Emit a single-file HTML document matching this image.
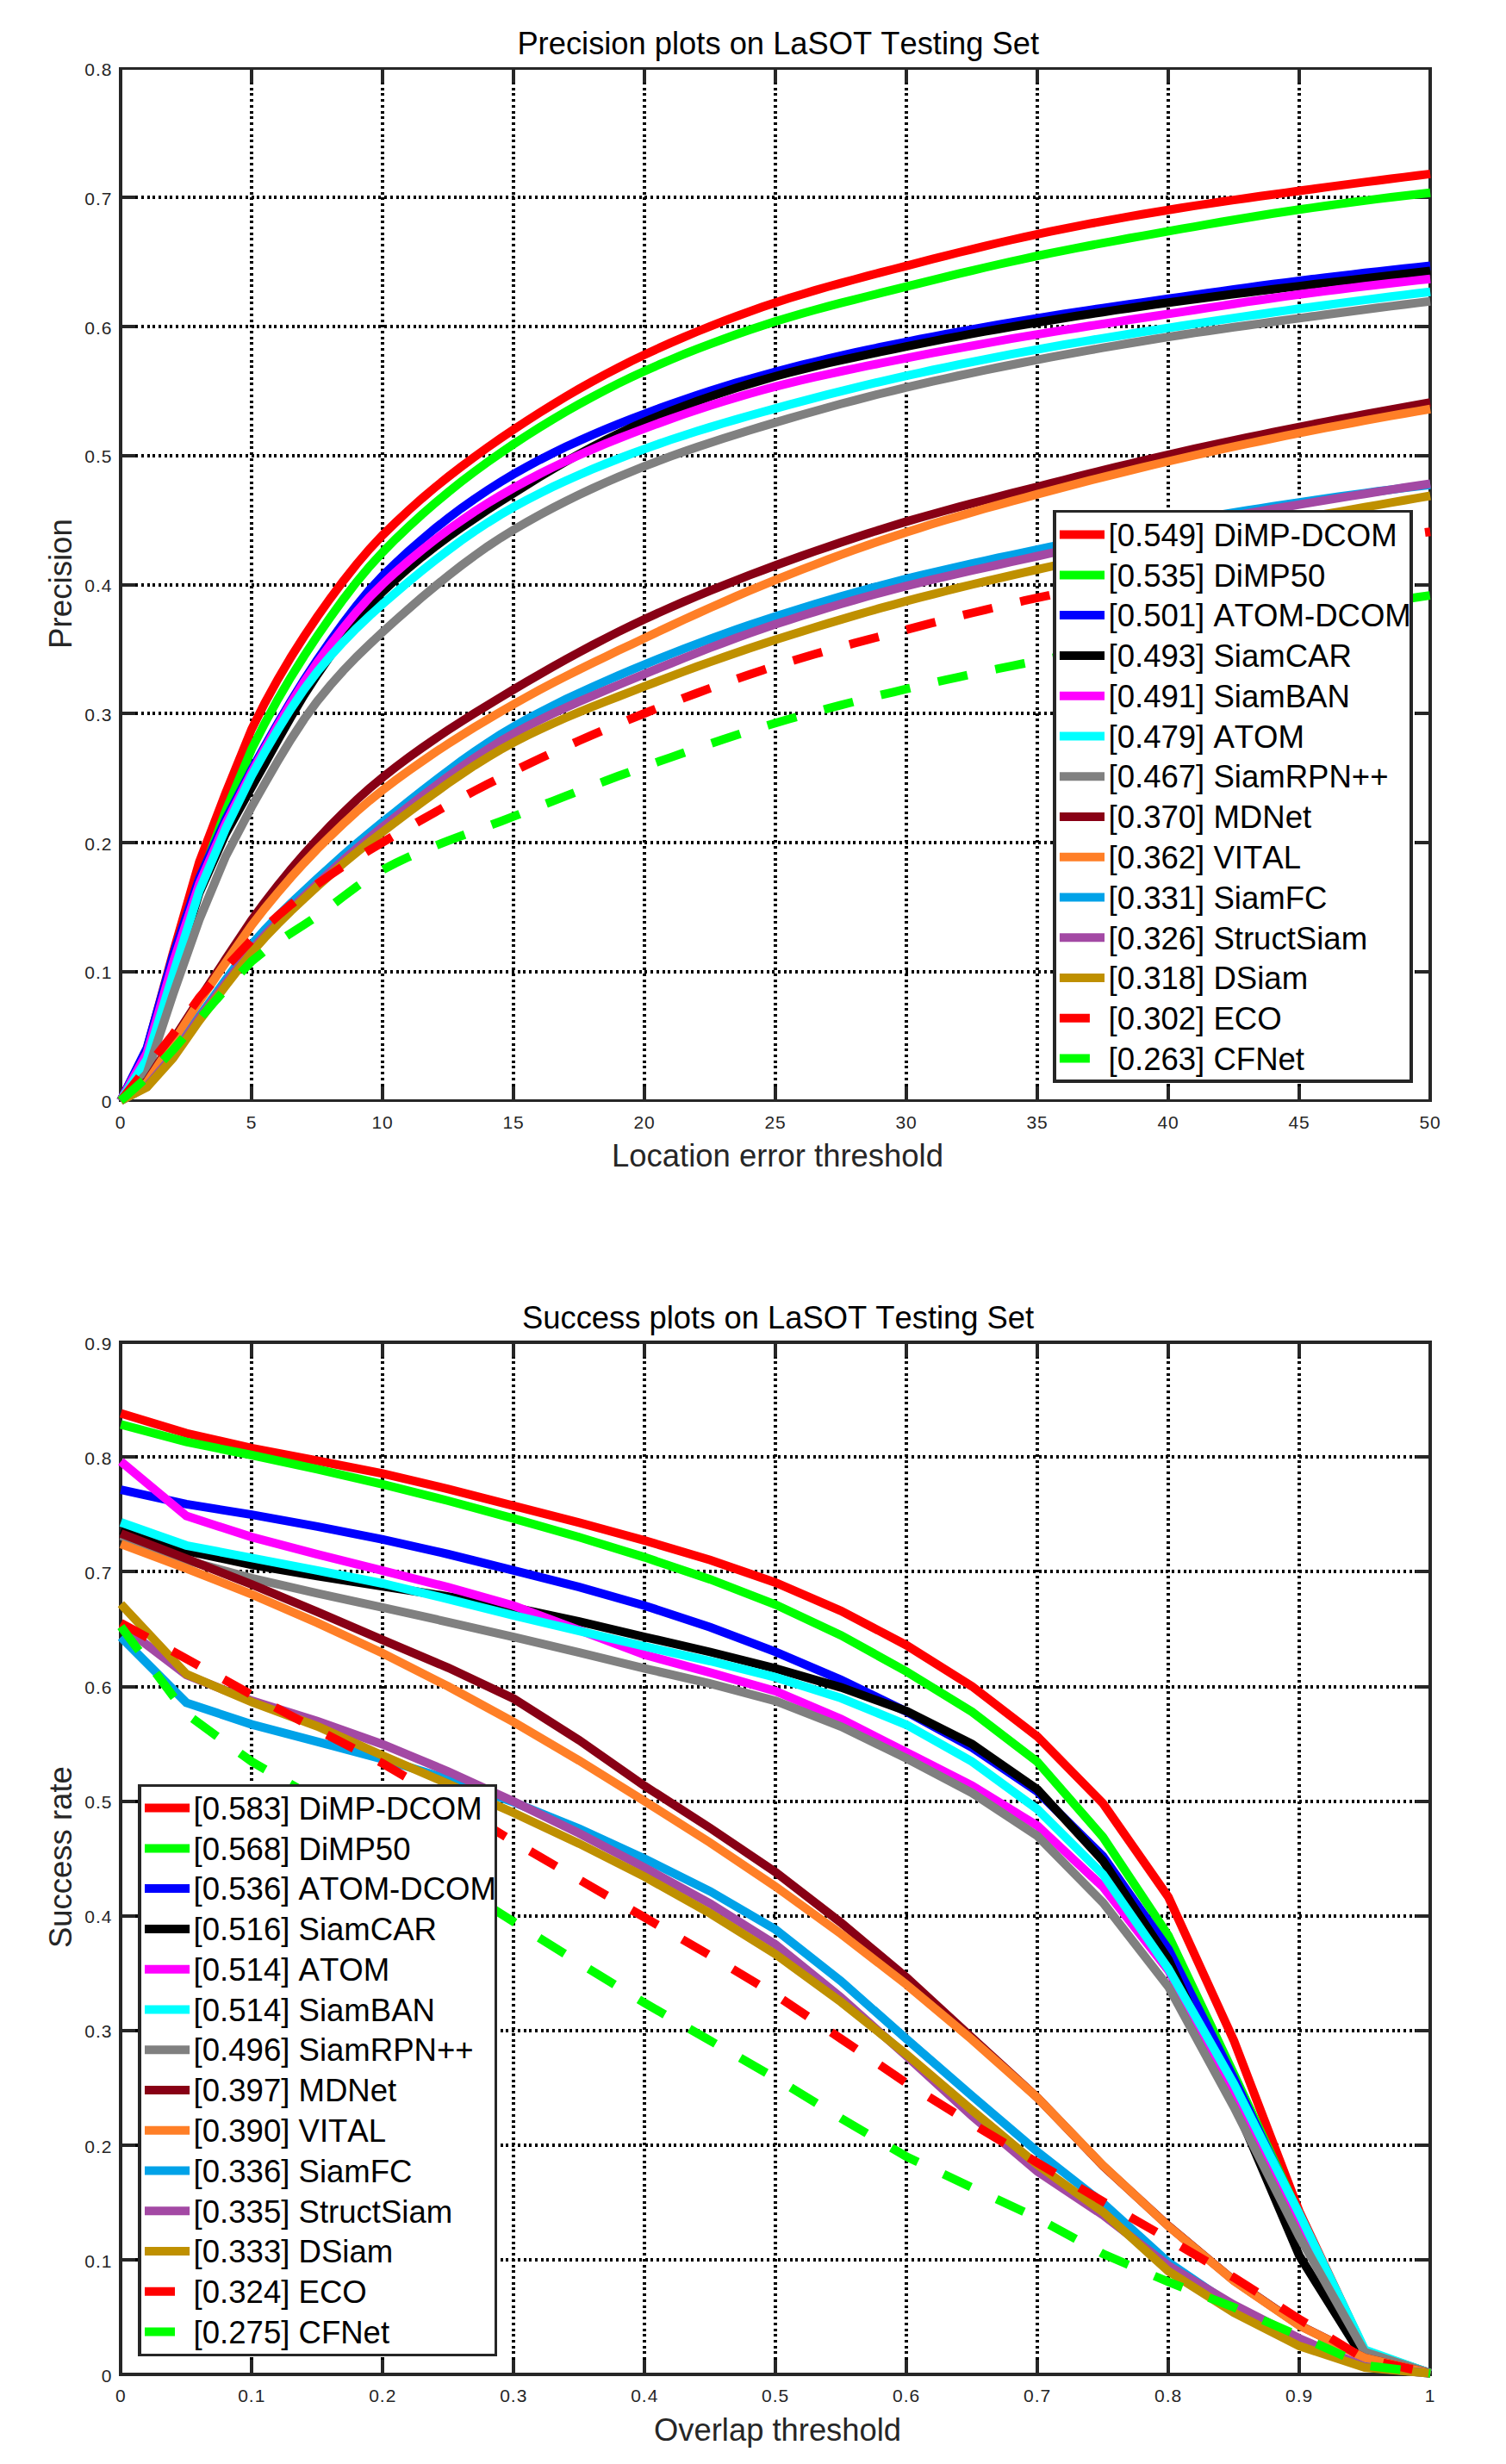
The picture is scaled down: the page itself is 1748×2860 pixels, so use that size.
<!DOCTYPE html>
<html lang="en"><head><meta charset="utf-8"><title>LaSOT precision and success plots</title>
<style>
html,body{margin:0;padding:0;background:#fff;}
body{width:1748px;height:2860px;overflow:hidden;}
svg{display:block;}
text{font-family:"Liberation Sans",Arial,Helvetica,sans-serif;font-kerning:none;}
.tk{font-size:21px;fill:#262626;letter-spacing:1px;}
.lb{font-size:36px;fill:#262626;}
.tt{font-size:36px;fill:#000;}
.lg{font-size:36.55px;fill:#000;}
.ax{stroke:#262626;stroke-width:4;fill:none;shape-rendering:crispEdges;}
.tick{stroke:#262626;stroke-width:4;fill:none;shape-rendering:crispEdges;}
.grid{stroke:#000;stroke-width:4;fill:none;stroke-dasharray:3 3.72;shape-rendering:crispEdges;}
.cv{fill:none;stroke-width:10;stroke-linejoin:miter;stroke-linecap:butt;}
</style></head><body>
<svg width="1748" height="2860" viewBox="0 0 1748 2860">
<rect x="0" y="0" width="1748" height="2860" fill="#fff"/>
<g>
<path class="grid" d="M292.1 1260.6V96.4M444.1 1260.6V96.4M596.1 1260.6V96.4M748.1 1260.6V96.4M900.1 1260.6V96.4M1052.1 1260.6V96.4M1204.1 1260.6V96.4M1356.1 1260.6V96.4M1508.1 1260.6V96.4M157.1 1127.8H1643.1M157.1 978H1643.1M157.1 828.3H1643.1M157.1 678.5H1643.1M157.1 528.7H1643.1M157.1 379H1643.1M157.1 229.2H1643.1"/>
<path class="tick" d="M292.1 1277.6v-17M292.1 79.4v17M444.1 1277.6v-17M444.1 79.4v17M596.1 1277.6v-17M596.1 79.4v17M748.1 1277.6v-17M748.1 79.4v17M900.1 1277.6v-17M900.1 79.4v17M1052.1 1277.6v-17M1052.1 79.4v17M1204.1 1277.6v-17M1204.1 79.4v17M1356.1 1277.6v-17M1356.1 79.4v17M1508.1 1277.6v-17M1508.1 79.4v17M140.1 1127.8h17M1660.1 1127.8h-17M140.1 978h17M1660.1 978h-17M140.1 828.3h17M1660.1 828.3h-17M140.1 678.5h17M1660.1 678.5h-17M140.1 528.7h17M1660.1 528.7h-17M140.1 379h17M1660.1 379h-17M140.1 229.2h17M1660.1 229.2h-17"/>
<path fill="#262626" shape-rendering="crispEdges" d="M138 78H1662V1279H138ZM142 81H1658V1276H142Z" fill-rule="evenodd"/>
<path class="cv" stroke="#FF0000" d="M140.1 1277.6L170.5 1217.7L200.9 1106L231.3 1000.5L261.7 921.1L292.1 846.2L307.3 816.1L322.5 788.4L337.7 762.7L352.9 738.8L368.1 716.2L383.3 694.7L398.5 674.3L413.7 655.1L428.9 637.3L444.1 621.1L459.3 606.3L474.5 592.1L489.7 578.6L504.9 565.8L520.1 553.5L535.3 541.7L550.5 530.4L565.7 519.5L580.9 508.9L596.1 498.6L611.3 488.6L626.5 478.9L641.7 469.4L656.9 460.3L672.1 451.4L687.3 442.8L702.5 434.6L717.7 426.7L732.9 419L748.1 411.8L763.3 404.7L778.5 397.9L793.7 391.3L808.9 385L824.1 378.8L839.3 372.9L854.5 367.2L869.7 361.7L884.9 356.3L900.1 351.2L915.3 346.3L930.5 341.7L945.7 337.1L960.9 332.8L976.1 328.6L991.3 324.5L1006.5 320.4L1021.7 316.4L1036.9 312.5L1052.1 308.6L1067.3 304.6L1082.5 300.7L1097.7 296.8L1112.9 293L1128.1 289.3L1143.3 285.6L1158.5 282L1173.7 278.5L1188.9 275.1L1204.1 271.9L1219.3 268.7L1234.5 265.6L1249.7 262.7L1264.9 259.7L1280.1 256.9L1295.3 254.1L1310.5 251.4L1325.7 248.8L1340.9 246.2L1356.1 243.7L1371.3 241.3L1386.5 238.9L1401.7 236.6L1416.9 234.3L1432.1 232.1L1447.3 230L1462.5 227.8L1477.7 225.7L1492.9 223.6L1508.1 221.5L1523.3 219.5L1538.5 217.4L1553.7 215.4L1568.9 213.4L1584.1 211.4L1599.3 209.5L1614.5 207.5L1629.7 205.6L1644.9 203.8L1660.1 201.9"/>
<path class="cv" stroke="#00FF00" d="M140.1 1277.6L170.5 1222.2L200.9 1118.8L231.3 1024.5L261.7 942.1L292.1 869.5L307.3 839.5L322.5 811.7L337.7 785.8L352.9 761.5L368.1 738.6L383.3 716.6L398.5 695.6L413.7 675.8L428.9 657.5L444.1 640.9L459.3 625.6L474.5 611.1L489.7 597.2L504.9 584L520.1 571.3L535.3 559.2L550.5 547.6L565.7 536.5L580.9 525.8L596.1 515.5L611.3 505.6L626.5 496L641.7 486.7L656.9 477.7L672.1 469.1L687.3 460.8L702.5 452.8L717.7 445.1L732.9 437.8L748.1 430.8L763.3 424L778.5 417.5L793.7 411.2L808.9 405.2L824.1 399.3L839.3 393.7L854.5 388.2L869.7 383L884.9 378L900.1 373.1L915.3 368.5L930.5 364L945.7 359.8L960.9 355.7L976.1 351.7L991.3 347.8L1006.5 344L1021.7 340.2L1036.9 336.4L1052.1 332.7L1067.3 328.9L1082.5 325.1L1097.7 321.4L1112.9 317.7L1128.1 314.1L1143.3 310.5L1158.5 307L1173.7 303.6L1188.9 300.3L1204.1 297L1219.3 293.9L1234.5 290.8L1249.7 287.9L1264.9 285L1280.1 282.1L1295.3 279.3L1310.5 276.5L1325.7 273.8L1340.9 271.1L1356.1 268.4L1371.3 265.7L1386.5 263.1L1401.7 260.4L1416.9 257.8L1432.1 255.2L1447.3 252.7L1462.5 250.2L1477.7 247.8L1492.9 245.5L1508.1 243.3L1523.3 241.1L1538.5 239L1553.7 236.9L1568.9 234.8L1584.1 232.9L1599.3 230.9L1614.5 229L1629.7 227.2L1644.9 225.5L1660.1 223.8"/>
<path class="cv" stroke="#0000FF" d="M140.1 1277.6L170.5 1216.6L200.9 1109L231.3 1019.5L261.7 951.8L292.1 893.4L307.3 866.1L322.5 839.5L337.7 813.7L352.9 789.1L368.1 766.1L383.3 744.2L398.5 723L413.7 703L428.9 684.6L444.1 668.3L459.3 653.6L474.5 639.5L489.7 626.2L504.9 613.5L520.1 601.5L535.3 590.1L550.5 579.3L565.7 569.1L580.9 559.5L596.1 550.4L611.3 541.9L626.5 533.7L641.7 526L656.9 518.6L672.1 511.6L687.3 504.9L702.5 498.4L717.7 492.2L732.9 486.2L748.1 480.3L763.3 474.7L778.5 469.2L793.7 463.9L808.9 458.8L824.1 453.8L839.3 449L854.5 444.4L869.7 440L884.9 435.7L900.1 431.5L915.3 427.5L930.5 423.7L945.7 420L960.9 416.4L976.1 412.9L991.3 409.5L1006.5 406.2L1021.7 403L1036.9 399.9L1052.1 396.8L1067.3 393.7L1082.5 390.8L1097.7 387.9L1112.9 385.1L1128.1 382.3L1143.3 379.6L1158.5 377L1173.7 374.4L1188.9 371.9L1204.1 369.4L1219.3 366.9L1234.5 364.5L1249.7 362.2L1264.9 359.9L1280.1 357.7L1295.3 355.5L1310.5 353.3L1325.7 351.1L1340.9 348.9L1356.1 346.7L1371.3 344.6L1386.5 342.4L1401.7 340.3L1416.9 338.1L1432.1 336L1447.3 333.9L1462.5 331.8L1477.7 329.8L1492.9 327.9L1508.1 325.9L1523.3 324L1538.5 322.2L1553.7 320.4L1568.9 318.6L1584.1 316.8L1599.3 315.1L1614.5 313.4L1629.7 311.8L1644.9 310.1L1660.1 308.6"/>
<path class="cv" stroke="#000000" d="M140.1 1277.6L170.5 1232.7L200.9 1133.8L231.3 1036.5L261.7 968.3L292.1 913.6L307.3 886.5L322.5 859.1L337.7 832.3L352.9 806.8L368.1 783.3L383.3 761.5L398.5 740.5L413.7 720.8L428.9 702.8L444.1 686.9L459.3 672.6L474.5 659.1L489.7 646.5L504.9 634.5L520.1 623.2L535.3 612.4L550.5 602L565.7 591.9L580.9 582.1L596.1 572.5L611.3 562.9L626.5 553.6L641.7 544.5L656.9 535.7L672.1 527.1L687.3 518.9L702.5 511L717.7 503.4L732.9 496.3L748.1 489.6L763.3 483.3L778.5 477.2L793.7 471.4L808.9 465.7L824.1 460.4L839.3 455.2L854.5 450.3L869.7 445.6L884.9 441.1L900.1 436.8L915.3 432.7L930.5 428.8L945.7 425.1L960.9 421.5L976.1 418.1L991.3 414.8L1006.5 411.6L1021.7 408.4L1036.9 405.3L1052.1 402.2L1067.3 399.1L1082.5 396.1L1097.7 393.2L1112.9 390.3L1128.1 387.4L1143.3 384.7L1158.5 382L1173.7 379.3L1188.9 376.7L1204.1 374.2L1219.3 371.7L1234.5 369.2L1249.7 366.8L1264.9 364.5L1280.1 362.2L1295.3 359.9L1310.5 357.7L1325.7 355.5L1340.9 353.3L1356.1 351.2L1371.3 349.2L1386.5 347.2L1401.7 345.2L1416.9 343.2L1432.1 341.3L1447.3 339.5L1462.5 337.6L1477.7 335.7L1492.9 333.9L1508.1 332.1L1523.3 330.2L1538.5 328.4L1553.7 326.6L1568.9 324.9L1584.1 323.1L1599.3 321.4L1614.5 319.6L1629.7 317.9L1644.9 316.2L1660.1 314.5"/>
<path class="cv" stroke="#FF00FF" d="M140.1 1277.6L170.5 1222.2L200.9 1117.3L231.3 1025.7L261.7 956.3L292.1 896.4L307.3 868.8L322.5 841.9L337.7 816.1L352.9 791.8L368.1 769.4L383.3 748.6L398.5 728.8L413.7 710.3L428.9 693.3L444.1 678.1L459.3 664.1L474.5 650.9L489.7 638.3L504.9 626.4L520.1 615L535.3 604.3L550.5 594L565.7 584.3L580.9 575.1L596.1 566.3L611.3 558L626.5 550L641.7 542.4L656.9 535.2L672.1 528.3L687.3 521.6L702.5 515.2L717.7 509L732.9 503.1L748.1 497.3L763.3 491.7L778.5 486.2L793.7 480.9L808.9 475.8L824.1 470.8L839.3 466L854.5 461.4L869.7 457L884.9 452.8L900.1 448.7L915.3 444.9L930.5 441.2L945.7 437.7L960.9 434.3L976.1 431L991.3 427.8L1006.5 424.7L1021.7 421.7L1036.9 418.7L1052.1 415.6L1067.3 412.7L1082.5 409.7L1097.7 406.9L1112.9 404.1L1128.1 401.3L1143.3 398.6L1158.5 395.9L1173.7 393.2L1188.9 390.6L1204.1 388.1L1219.3 385.6L1234.5 383.1L1249.7 380.7L1264.9 378.3L1280.1 376L1295.3 373.6L1310.5 371.3L1325.7 369L1340.9 366.7L1356.1 364.4L1371.3 362.1L1386.5 359.8L1401.7 357.4L1416.9 355.1L1432.1 352.7L1447.3 350.4L1462.5 348.2L1477.7 346L1492.9 343.9L1508.1 341.8L1523.3 339.8L1538.5 337.9L1553.7 336L1568.9 334.1L1584.1 332.3L1599.3 330.5L1614.5 328.8L1629.7 327.1L1644.9 325.4L1660.1 323.8"/>
<path class="cv" stroke="#00FFFF" d="M140.1 1277.6L170.5 1229.7L200.9 1130.8L231.3 1034.1L261.7 962.3L292.1 900.2L307.3 873L322.5 847.1L337.7 822.7L352.9 800.2L368.1 779.9L383.3 761.7L398.5 744.9L413.7 729.3L428.9 714.8L444.1 701.1L459.3 687.9L474.5 675L489.7 662.5L504.9 650.4L520.1 638.7L535.3 627.5L550.5 616.9L565.7 606.9L580.9 597.4L596.1 588.6L611.3 580.4L626.5 572.6L641.7 565.1L656.9 558L672.1 551.2L687.3 544.7L702.5 538.5L717.7 532.5L732.9 526.7L748.1 521.1L763.3 515.7L778.5 510.4L793.7 505.4L808.9 500.6L824.1 495.9L839.3 491.3L854.5 486.9L869.7 482.5L884.9 478.3L900.1 474.1L915.3 469.9L930.5 465.8L945.7 461.8L960.9 457.9L976.1 454.1L991.3 450.3L1006.5 446.7L1021.7 443.1L1036.9 439.6L1052.1 436.2L1067.3 432.8L1082.5 429.5L1097.7 426.3L1112.9 423.2L1128.1 420.1L1143.3 417.1L1158.5 414.1L1173.7 411.2L1188.9 408.4L1204.1 405.6L1219.3 402.9L1234.5 400.2L1249.7 397.6L1264.9 395.1L1280.1 392.6L1295.3 390.2L1310.5 387.7L1325.7 385.3L1340.9 383L1356.1 380.6L1371.3 378.2L1386.5 375.9L1401.7 373.6L1416.9 371.4L1432.1 369.1L1447.3 366.9L1462.5 364.7L1477.7 362.5L1492.9 360.4L1508.1 358.3L1523.3 356.2L1538.5 354.2L1553.7 352.1L1568.9 350.1L1584.1 348.1L1599.3 346.2L1614.5 344.3L1629.7 342.4L1644.9 340.5L1660.1 338.7"/>
<path class="cv" stroke="#808080" d="M140.1 1277.6L170.5 1246.1L200.9 1154L231.3 1067.5L261.7 994.5L292.1 936.4L307.3 909.6L322.5 883.3L337.7 858.2L352.9 834.9L368.1 814L383.3 795.5L398.5 778.4L413.7 762.6L428.9 747.8L444.1 733.6L459.3 719.9L474.5 706.4L489.7 693.3L504.9 680.6L520.1 668.3L535.3 656.5L550.5 645.2L565.7 634.5L580.9 624.4L596.1 615L611.3 606.1L626.5 597.6L641.7 589.5L656.9 581.7L672.1 574.2L687.3 567.1L702.5 560.2L717.7 553.6L732.9 547.3L748.1 541.2L763.3 535.3L778.5 529.6L793.7 524.2L808.9 519L824.1 513.9L839.3 509L854.5 504.2L869.7 499.5L884.9 494.9L900.1 490.4L915.3 485.9L930.5 481.5L945.7 477.2L960.9 473L976.1 468.8L991.3 464.8L1006.5 460.9L1021.7 457L1036.9 453.3L1052.1 449.6L1067.3 446.1L1082.5 442.6L1097.7 439.3L1112.9 436L1128.1 432.8L1143.3 429.6L1158.5 426.5L1173.7 423.5L1188.9 420.5L1204.1 417.6L1219.3 414.7L1234.5 411.9L1249.7 409.1L1264.9 406.4L1280.1 403.7L1295.3 401.1L1310.5 398.5L1325.7 396L1340.9 393.5L1356.1 391.1L1371.3 388.7L1386.5 386.4L1401.7 384.2L1416.9 382L1432.1 379.8L1447.3 377.7L1462.5 375.6L1477.7 373.5L1492.9 371.4L1508.1 369.4L1523.3 367.3L1538.5 365.3L1553.7 363.3L1568.9 361.3L1584.1 359.3L1599.3 357.3L1614.5 355.4L1629.7 353.5L1644.9 351.6L1660.1 349.7"/>
<path class="cv" stroke="#880015" d="M140.1 1277.6L170.5 1255.1L200.9 1207.2L231.3 1160L261.7 1113.6L292.1 1067.8L307.3 1047.3L322.5 1027.7L337.7 1009L352.9 991.2L368.1 974.5L383.3 958.5L398.5 943.2L413.7 928.6L428.9 915L444.1 902.3L459.3 890.4L474.5 879L489.7 868.1L504.9 857.6L520.1 847.4L535.3 837.6L550.5 828.1L565.7 818.7L580.9 809.5L596.1 800.4L611.3 791.4L626.5 782.6L641.7 773.9L656.9 765.4L672.1 757.1L687.3 749L702.5 741.1L717.7 733.4L732.9 726L748.1 718.8L763.3 711.8L778.5 705L793.7 698.4L808.9 692L824.1 685.7L839.3 679.6L854.5 673.6L869.7 667.7L884.9 662L900.1 656.3L915.3 650.8L930.5 645.3L945.7 639.9L960.9 634.7L976.1 629.5L991.3 624.4L1006.5 619.5L1021.7 614.7L1036.9 610L1052.1 605.4L1067.3 601L1082.5 596.7L1097.7 592.5L1112.9 588.4L1128.1 584.4L1143.3 580.5L1158.5 576.6L1173.7 572.7L1188.9 568.8L1204.1 565L1219.3 561.1L1234.5 557.3L1249.7 553.4L1264.9 549.6L1280.1 545.9L1295.3 542.2L1310.5 538.5L1325.7 534.9L1340.9 531.3L1356.1 527.8L1371.3 524.4L1386.5 521L1401.7 517.7L1416.9 514.4L1432.1 511.2L1447.3 508L1462.5 504.8L1477.7 501.7L1492.9 498.7L1508.1 495.6L1523.3 492.6L1538.5 489.6L1553.7 486.7L1568.9 483.8L1584.1 480.9L1599.3 478.1L1614.5 475.3L1629.7 472.6L1644.9 469.8L1660.1 467.2"/>
<path class="cv" stroke="#FF7F27" d="M140.1 1277.6L170.5 1256.6L200.9 1210.2L231.3 1162.4L261.7 1117.6L292.1 1073.9L307.3 1054.5L322.5 1036.1L337.7 1018.4L352.9 1001.7L368.1 985.8L383.3 970.7L398.5 956.2L413.7 942.3L428.9 929.3L444.1 917.1L459.3 905.6L474.5 894.5L489.7 883.8L504.9 873.4L520.1 863.4L535.3 853.8L550.5 844.3L565.7 835.2L580.9 826.2L596.1 817.5L611.3 809L626.5 800.7L641.7 792.7L656.9 784.9L672.1 777.2L687.3 769.7L702.5 762.4L717.7 755.1L732.9 747.9L748.1 740.7L763.3 733.5L778.5 726.4L793.7 719.3L808.9 712.4L824.1 705.5L839.3 698.8L854.5 692.1L869.7 685.6L884.9 679.3L900.1 673.1L915.3 667.1L930.5 661.1L945.7 655.3L960.9 649.5L976.1 643.9L991.3 638.4L1006.5 633L1021.7 627.8L1036.9 622.7L1052.1 617.7L1067.3 612.9L1082.5 608.1L1097.7 603.5L1112.9 599.1L1128.1 594.7L1143.3 590.3L1158.5 586.1L1173.7 581.9L1188.9 577.8L1204.1 573.7L1219.3 569.6L1234.5 565.6L1249.7 561.6L1264.9 557.7L1280.1 553.9L1295.3 550.1L1310.5 546.3L1325.7 542.6L1340.9 539L1356.1 535.5L1371.3 532L1386.5 528.5L1401.7 525.1L1416.9 521.7L1432.1 518.4L1447.3 515.2L1462.5 512L1477.7 508.8L1492.9 505.7L1508.1 502.7L1523.3 499.7L1538.5 496.7L1553.7 493.8L1568.9 491L1584.1 488.1L1599.3 485.4L1614.5 482.7L1629.7 480L1644.9 477.4L1660.1 474.8"/>
<path class="cv" stroke="#00A2E8" d="M140.1 1277.6L170.5 1261.1L200.9 1225.2L231.3 1180.2L261.7 1137.6L292.1 1096.2L307.3 1079.1L322.5 1063.3L337.7 1048.4L352.9 1034.1L368.1 1020L383.3 1006.1L398.5 992.5L413.7 979.3L428.9 966.6L444.1 954.2L459.3 942.1L474.5 930L489.7 918L504.9 906.2L520.1 894.6L535.3 883.4L550.5 872.7L565.7 862.4L580.9 852.6L596.1 843.6L611.3 835L626.5 826.9L641.7 819.1L656.9 811.6L672.1 804.4L687.3 797.5L702.5 790.7L717.7 784.1L732.9 777.7L748.1 771.4L763.3 765.1L778.5 759.1L793.7 753.1L808.9 747.3L824.1 741.7L839.3 736.2L854.5 730.8L869.7 725.6L884.9 720.5L900.1 715.5L915.3 710.7L930.5 705.9L945.7 701.3L960.9 696.8L976.1 692.4L991.3 688.1L1006.5 683.9L1021.7 679.8L1036.9 675.8L1052.1 671.9L1067.3 668.1L1082.5 664.5L1097.7 661L1112.9 657.5L1128.1 654.1L1143.3 650.8L1158.5 647.5L1173.7 644.3L1188.9 641.1L1204.1 637.9L1219.3 634.7L1234.5 631.6L1249.7 628.5L1264.9 625.5L1280.1 622.4L1295.3 619.5L1310.5 616.5L1325.7 613.7L1340.9 610.9L1356.1 608.1L1371.3 605.4L1386.5 602.7L1401.7 600.1L1416.9 597.5L1432.1 595L1447.3 592.5L1462.5 590.1L1477.7 587.7L1492.9 585.4L1508.1 583.1L1523.3 580.9L1538.5 578.7L1553.7 576.5L1568.9 574.4L1584.1 572.4L1599.3 570.3L1614.5 568.4L1629.7 566.4L1644.9 564.6L1660.1 562.7"/>
<path class="cv" stroke="#A349A4" d="M140.1 1277.6L170.5 1261.1L200.9 1225.2L231.3 1181.7L261.7 1141.6L292.1 1102.4L307.3 1085.5L322.5 1069.7L337.7 1054.7L352.9 1040.2L368.1 1026L383.3 1012L398.5 998.3L413.7 985L428.9 972.2L444.1 959.9L459.3 947.9L474.5 936L489.7 924.2L504.9 912.6L520.1 901.3L535.3 890.4L550.5 879.9L565.7 869.9L580.9 860.4L596.1 851.6L611.3 843.4L626.5 835.7L641.7 828.3L656.9 821.2L672.1 814.4L687.3 807.8L702.5 801.3L717.7 795L732.9 788.7L748.1 782.4L763.3 776.2L778.5 770L793.7 763.9L808.9 757.8L824.1 751.9L839.3 746.2L854.5 740.5L869.7 735.1L884.9 729.8L900.1 724.6L915.3 719.7L930.5 714.8L945.7 710.1L960.9 705.5L976.1 701L991.3 696.6L1006.5 692.3L1021.7 688.1L1036.9 684.1L1052.1 680.1L1067.3 676.3L1082.5 672.6L1097.7 669.1L1112.9 665.6L1128.1 662.2L1143.3 658.9L1158.5 655.5L1173.7 652.2L1188.9 648.9L1204.1 645.5L1219.3 642.2L1234.5 638.8L1249.7 635.3L1264.9 631.9L1280.1 628.6L1295.3 625.2L1310.5 621.9L1325.7 618.7L1340.9 615.6L1356.1 612.6L1371.3 609.7L1386.5 606.8L1401.7 604L1416.9 601.3L1432.1 598.6L1447.3 596L1462.5 593.3L1477.7 590.8L1492.9 588.2L1508.1 585.6L1523.3 583.1L1538.5 580.6L1553.7 578.1L1568.9 575.6L1584.1 573.2L1599.3 570.8L1614.5 568.4L1629.7 566L1644.9 563.7L1660.1 561.4"/>
<path class="cv" stroke="#BF9000" d="M140.1 1277.6L170.5 1261.9L200.9 1228.2L231.3 1184.7L261.7 1144.6L292.1 1105.4L307.3 1088.4L322.5 1072.5L337.7 1057.4L352.9 1043L368.1 1029L383.3 1015.4L398.5 1002.2L413.7 989.6L428.9 977.4L444.1 965.6L459.3 954.1L474.5 942.6L489.7 931.3L504.9 920.2L520.1 909.3L535.3 898.8L550.5 888.7L565.7 879.2L580.9 870.2L596.1 861.8L611.3 854L626.5 846.7L641.7 839.7L656.9 833L672.1 826.6L687.3 820.4L702.5 814.4L717.7 808.5L732.9 802.6L748.1 796.7L763.3 790.8L778.5 785.1L793.7 779.4L808.9 773.8L824.1 768.4L839.3 763L854.5 757.8L869.7 752.6L884.9 747.6L900.1 742.6L915.3 737.7L930.5 732.9L945.7 728.2L960.9 723.6L976.1 719.1L991.3 714.6L1006.5 710.2L1021.7 705.9L1036.9 701.8L1052.1 697.7L1067.3 693.7L1082.5 689.8L1097.7 686L1112.9 682.2L1128.1 678.5L1143.3 674.9L1158.5 671.4L1173.7 667.9L1188.9 664.4L1204.1 661L1219.3 657.6L1234.5 654.2L1249.7 650.9L1264.9 647.6L1280.1 644.4L1295.3 641.2L1310.5 638.1L1325.7 635L1340.9 632L1356.1 629.1L1371.3 626.2L1386.5 623.4L1401.7 620.6L1416.9 618L1432.1 615.3L1447.3 612.7L1462.5 610L1477.7 607.4L1492.9 604.8L1508.1 602.1L1523.3 599.4L1538.5 596.8L1553.7 594.1L1568.9 591.4L1584.1 588.7L1599.3 586.1L1614.5 583.4L1629.7 580.8L1644.9 578.1L1660.1 575.5"/>
<path class="cv" stroke="#FF0000" stroke-dasharray="35 33.1" d="M140.1 1277.6L170.5 1239.3L200.9 1200.5L231.3 1157.8L261.7 1123.3L292.1 1091L307.3 1076.7L322.5 1063L337.7 1050L352.9 1037.8L368.1 1026.3L383.3 1015.6L398.5 1005.5L413.7 996L428.9 986.8L444.1 977.8L459.3 968.8L474.5 960L489.7 951.3L504.9 942.8L520.1 934.4L535.3 926.2L550.5 918.1L565.7 910.3L580.9 902.6L596.1 895.1L611.3 887.7L626.5 880.5L641.7 873.5L656.9 866.6L672.1 859.8L687.3 853.2L702.5 846.7L717.7 840.3L732.9 834.1L748.1 828L763.3 822L778.5 816.1L793.7 810.2L808.9 804.5L824.1 798.9L839.3 793.4L854.5 788.1L869.7 782.9L884.9 777.9L900.1 773L915.3 768.3L930.5 763.8L945.7 759.3L960.9 755L976.1 750.8L991.3 746.7L1006.5 742.7L1021.7 738.7L1036.9 734.7L1052.1 730.8L1067.3 726.8L1082.5 722.9L1097.7 719.1L1112.9 715.2L1128.1 711.5L1143.3 707.8L1158.5 704.2L1173.7 700.6L1188.9 697.2L1204.1 693.9L1219.3 690.7L1234.5 687.6L1249.7 684.6L1264.9 681.7L1280.1 678.8L1295.3 676L1310.5 673.2L1325.7 670.5L1340.9 667.7L1356.1 665L1371.3 662.3L1386.5 659.7L1401.7 657L1416.9 654.4L1432.1 651.9L1447.3 649.3L1462.5 646.8L1477.7 644.4L1492.9 642L1508.1 639.6L1523.3 637.2L1538.5 634.9L1553.7 632.5L1568.9 630.3L1584.1 628L1599.3 625.8L1614.5 623.6L1629.7 621.5L1644.9 619.3L1660.1 617.2"/>
<path class="cv" stroke="#00FF00" stroke-dasharray="35 33.1" d="M140.1 1277.6L170.5 1250.6L200.9 1218.6L231.3 1182.9L261.7 1148.3L292.1 1115.8L307.3 1103.6L322.5 1093L337.7 1083.1L352.9 1073.4L368.1 1063.3L383.3 1052.2L398.5 1040.6L413.7 1029.2L428.9 1018.6L444.1 1009.5L459.3 1001.8L474.5 994.6L489.7 988L504.9 981.8L520.1 975.9L535.3 970.3L550.5 964.7L565.7 959.1L580.9 953.5L596.1 947.6L611.3 941.7L626.5 935.7L641.7 929.8L656.9 923.9L672.1 918L687.3 912.2L702.5 906.5L717.7 900.8L732.9 895.3L748.1 889.8L763.3 884.4L778.5 879.1L793.7 873.8L808.9 868.5L824.1 863.3L839.3 858.2L854.5 853.3L869.7 848.4L884.9 843.7L900.1 839.2L915.3 834.8L930.5 830.6L945.7 826.4L960.9 822.3L976.1 818.4L991.3 814.5L1006.5 810.7L1021.7 806.9L1036.9 803.3L1052.1 799.7L1067.3 796.1L1082.5 792.6L1097.7 789.2L1112.9 785.9L1128.1 782.6L1143.3 779.3L1158.5 776.2L1173.7 773.1L1188.9 770L1204.1 767L1219.3 764.1L1234.5 761.2L1249.7 758.5L1264.9 755.7L1280.1 753L1295.3 750.4L1310.5 747.8L1325.7 745.1L1340.9 742.5L1356.1 739.9L1371.3 737.3L1386.5 734.7L1401.7 732.1L1416.9 729.5L1432.1 726.9L1447.3 724.4L1462.5 721.9L1477.7 719.4L1492.9 716.9L1508.1 714.4L1523.3 712L1538.5 709.6L1553.7 707.2L1568.9 704.9L1584.1 702.5L1599.3 700.2L1614.5 697.9L1629.7 695.6L1644.9 693.3L1660.1 691.1"/>
<text class="tk" x="140.1" y="1309.5" text-anchor="middle">0</text>
<text class="tk" x="292.1" y="1309.5" text-anchor="middle">5</text>
<text class="tk" x="444.1" y="1309.5" text-anchor="middle">10</text>
<text class="tk" x="596.1" y="1309.5" text-anchor="middle">15</text>
<text class="tk" x="748.1" y="1309.5" text-anchor="middle">20</text>
<text class="tk" x="900.1" y="1309.5" text-anchor="middle">25</text>
<text class="tk" x="1052.1" y="1309.5" text-anchor="middle">30</text>
<text class="tk" x="1204.1" y="1309.5" text-anchor="middle">35</text>
<text class="tk" x="1356.1" y="1309.5" text-anchor="middle">40</text>
<text class="tk" x="1508.1" y="1309.5" text-anchor="middle">45</text>
<text class="tk" x="1660.1" y="1309.5" text-anchor="middle">50</text>
<text class="tk" x="130.5" y="1286.2" text-anchor="end">0</text>
<text class="tk" x="130.5" y="1136.4" text-anchor="end">0.1</text>
<text class="tk" x="130.5" y="986.6" text-anchor="end">0.2</text>
<text class="tk" x="130.5" y="836.9" text-anchor="end">0.3</text>
<text class="tk" x="130.5" y="687.1" text-anchor="end">0.4</text>
<text class="tk" x="130.5" y="537.3" text-anchor="end">0.5</text>
<text class="tk" x="130.5" y="387.6" text-anchor="end">0.6</text>
<text class="tk" x="130.5" y="237.8" text-anchor="end">0.7</text>
<text class="tk" x="130.5" y="88" text-anchor="end">0.8</text>
<text class="tt" x="600.4" y="63" textLength="605.6" lengthAdjust="spacingAndGlyphs">Precision plots on LaSOT Testing Set</text>
<text class="lb" x="710" y="1354.2" textLength="385" lengthAdjust="spacingAndGlyphs">Location error threshold</text>
<text class="lb" transform="translate(83 752.9) rotate(-90)" textLength="150.8" lengthAdjust="spacingAndGlyphs">Precision</text>
<rect x="1223.9" y="593.7" width="414.1" height="661.2" fill="#fff" stroke="#262626" stroke-width="3.4" shape-rendering="crispEdges"/>
<path class="cv" stroke="#FF0000" d="M1229.9 620.6H1282"/>
<text class="lg" x="1286.5" y="633.8">[0.549] DiMP-DCOM</text>
<path class="cv" stroke="#00FF00" d="M1229.9 667.4H1282"/>
<text class="lg" x="1286.5" y="680.6">[0.535] DiMP50</text>
<path class="cv" stroke="#0000FF" d="M1229.9 714.1H1282"/>
<text class="lg" x="1286.5" y="727.3">[0.501] ATOM-DCOM</text>
<path class="cv" stroke="#000000" d="M1229.9 760.9H1282"/>
<text class="lg" x="1286.5" y="774.1">[0.493] SiamCAR</text>
<path class="cv" stroke="#FF00FF" d="M1229.9 807.7H1282"/>
<text class="lg" x="1286.5" y="820.9">[0.491] SiamBAN</text>
<path class="cv" stroke="#00FFFF" d="M1229.9 854.5H1282"/>
<text class="lg" x="1286.5" y="867.7">[0.479] ATOM</text>
<path class="cv" stroke="#808080" d="M1229.9 901.2H1282"/>
<text class="lg" x="1286.5" y="914.4">[0.467] SiamRPN++</text>
<path class="cv" stroke="#880015" d="M1229.9 948H1282"/>
<text class="lg" x="1286.5" y="961.2">[0.370] MDNet</text>
<path class="cv" stroke="#FF7F27" d="M1229.9 994.8H1282"/>
<text class="lg" x="1286.5" y="1008">[0.362] VITAL</text>
<path class="cv" stroke="#00A2E8" d="M1229.9 1041.5H1282"/>
<text class="lg" x="1286.5" y="1054.7">[0.331] SiamFC</text>
<path class="cv" stroke="#A349A4" d="M1229.9 1088.3H1282"/>
<text class="lg" x="1286.5" y="1101.5">[0.326] StructSiam</text>
<path class="cv" stroke="#BF9000" d="M1229.9 1135.1H1282"/>
<text class="lg" x="1286.5" y="1148.3">[0.318] DSiam</text>
<path class="cv" stroke="#FF0000" stroke-dasharray="35 33.1" d="M1229.9 1181.8H1282"/>
<text class="lg" x="1286.5" y="1195">[0.302] ECO</text>
<path class="cv" stroke="#00FF00" stroke-dasharray="35 33.1" d="M1229.9 1228.6H1282"/>
<text class="lg" x="1286.5" y="1241.8">[0.263] CFNet</text>
</g>
<g>
<path class="grid" d="M292.3 2739.1V1575.2M444.3 2739.1V1575.2M596.3 2739.1V1575.2M748.3 2739.1V1575.2M900.2 2739.1V1575.2M1052.2 2739.1V1575.2M1204.2 2739.1V1575.2M1356.2 2739.1V1575.2M1508.2 2739.1V1575.2M157.3 2623H1643.2M157.3 2489.9H1643.2M157.3 2356.8H1643.2M157.3 2223.7H1643.2M157.3 2090.6H1643.2M157.3 1957.5H1643.2M157.3 1824.4H1643.2M157.3 1691.3H1643.2"/>
<path class="tick" d="M292.3 2756.1v-17M292.3 1558.2v17M444.3 2756.1v-17M444.3 1558.2v17M596.3 2756.1v-17M596.3 1558.2v17M748.3 2756.1v-17M748.3 1558.2v17M900.2 2756.1v-17M900.2 1558.2v17M1052.2 2756.1v-17M1052.2 1558.2v17M1204.2 2756.1v-17M1204.2 1558.2v17M1356.2 2756.1v-17M1356.2 1558.2v17M1508.2 2756.1v-17M1508.2 1558.2v17M140.3 2623h17M1660.2 2623h-17M140.3 2489.9h17M1660.2 2489.9h-17M140.3 2356.8h17M1660.2 2356.8h-17M140.3 2223.7h17M1660.2 2223.7h-17M140.3 2090.6h17M1660.2 2090.6h-17M140.3 1957.5h17M1660.2 1957.5h-17M140.3 1824.4h17M1660.2 1824.4h-17M140.3 1691.3h17M1660.2 1691.3h-17"/>
<path fill="#262626" shape-rendering="crispEdges" d="M138 1556H1662V2758H138ZM142 1560H1658V2754H142Z" fill-rule="evenodd"/>
<path class="cv" stroke="#FF0000" d="M140.3 1640.5L216.3 1663.6L292.3 1680.9L368.3 1695.5L444.3 1710.3L520.3 1728.4L596.3 1747.9L672.3 1767.3L748.3 1788.1L824.3 1810.7L900.2 1836.9L976.2 1869.8L1052.2 1909.7L1128.2 1957.4L1204.2 2015.7L1280.2 2093.3L1356.2 2202.1L1432.2 2368.8L1508.2 2567.1L1584.2 2728.8L1660.2 2754.8"/>
<path class="cv" stroke="#00FF00" d="M140.3 1653.4L216.3 1673.7L292.3 1689L368.3 1705.4L444.3 1722.8L520.3 1742L596.3 1762.6L672.3 1784.2L748.3 1807.6L824.3 1833.2L900.2 1862.5L976.2 1898.2L1052.2 1940.2L1128.2 1987L1204.2 2045.1L1280.2 2132.4L1356.2 2246.7L1432.2 2407.5L1508.2 2571.1L1584.2 2728.8L1660.2 2754.8"/>
<path class="cv" stroke="#0000FF" d="M140.3 1729.2L216.3 1745.9L292.3 1758.1L368.3 1771.8L444.3 1786.9L520.3 1804L596.3 1822.8L672.3 1842.2L748.3 1863.7L824.3 1888.8L900.2 1917.4L976.2 1949.8L1052.2 1986.8L1128.2 2028.4L1204.2 2079.6L1280.2 2154.5L1356.2 2262.7L1432.2 2412.8L1508.2 2572.4L1584.2 2729.5L1660.2 2754.8"/>
<path class="cv" stroke="#000000" d="M140.3 1776L216.3 1800.2L292.3 1816.4L368.3 1829.3L444.3 1841.2L520.3 1853.1L596.3 1865.9L672.3 1882.2L748.3 1900.1L824.3 1917.5L900.2 1936.6L976.2 1958.6L1052.2 1986.1L1128.2 2024.4L1204.2 2077L1280.2 2159.8L1356.2 2274.5L1432.2 2440L1508.2 2618.5L1584.2 2740.1L1660.2 2754.8"/>
<path class="cv" stroke="#FF00FF" d="M140.3 1696.4L216.3 1759.6L292.3 1784.1L368.3 1804.1L444.3 1823.1L520.3 1842.4L596.3 1863.7L672.3 1892.1L748.3 1920.8L824.3 1941.3L900.2 1963L976.2 1995.4L1052.2 2033.9L1128.2 2072.5L1204.2 2119.2L1280.2 2190.2L1356.2 2287.2L1432.2 2426.9L1508.2 2583.1L1584.2 2729.5L1660.2 2754.8"/>
<path class="cv" stroke="#00FFFF" d="M140.3 1767L216.3 1793.8L292.3 1808.4L368.3 1822.8L444.3 1838L520.3 1856.1L596.3 1875.1L672.3 1893.2L748.3 1911L824.3 1928L900.2 1946.9L976.2 1971L1052.2 2002L1128.2 2044.6L1204.2 2100.1L1280.2 2175.7L1356.2 2285.2L1432.2 2418.8L1508.2 2569.8L1584.2 2727.5L1660.2 2754.8"/>
<path class="cv" stroke="#808080" d="M140.3 1782.5L216.3 1811.1L292.3 1831.9L368.3 1849.3L444.3 1865.8L520.3 1882.8L596.3 1900.1L672.3 1918.2L748.3 1936.6L824.3 1954.1L900.2 1974.3L976.2 2004L1052.2 2041L1128.2 2081L1204.2 2131.2L1280.2 2208.4L1356.2 2306.2L1432.2 2445.8L1508.2 2596.4L1584.2 2730.1L1660.2 2754.8"/>
<path class="cv" stroke="#880015" d="M140.3 1779.9L216.3 1809.1L292.3 1839.2L368.3 1870.9L444.3 1903.7L520.3 1935.8L596.3 1971.7L672.3 2020L748.3 2073L824.3 2121.9L900.2 2173.1L976.2 2231.7L1052.2 2295.3L1128.2 2365.1L1204.2 2434.9L1280.2 2513.9L1356.2 2583.7L1432.2 2647L1508.2 2698.9L1584.2 2736.9L1660.2 2754.8"/>
<path class="cv" stroke="#FF7F27" d="M140.3 1792.1L216.3 1820.5L292.3 1850.6L368.3 1883.6L444.3 1919L520.3 1957.5L596.3 1998.9L672.3 2043.6L748.3 2090.7L824.3 2138.9L900.2 2189.8L976.2 2244.7L1052.2 2303.6L1128.2 2367.4L1204.2 2434.9L1280.2 2513.5L1356.2 2584.1L1432.2 2647.4L1508.2 2699.4L1584.2 2736.9L1660.2 2754.8"/>
<path class="cv" stroke="#00A2E8" d="M140.3 1900.1L216.3 1976.4L292.3 2001.6L368.3 2021.7L444.3 2041.8L520.3 2065.2L596.3 2091.9L672.3 2122.7L748.3 2157.5L824.3 2195.3L900.2 2239.7L976.2 2299.6L1052.2 2366.8L1128.2 2432.8L1204.2 2497.6L1280.2 2557.2L1356.2 2625.9L1432.2 2677.6L1508.2 2718.8L1584.2 2747.3L1660.2 2754.8"/>
<path class="cv" stroke="#A349A4" d="M140.3 1886.3L216.3 1944.2L292.3 1974.1L368.3 1997.7L444.3 2024.7L520.3 2056.3L596.3 2091L672.3 2128L748.3 2167.9L824.3 2209.6L900.2 2257L976.2 2318.5L1052.2 2386.6L1128.2 2455.9L1204.2 2520.6L1280.2 2571.1L1356.2 2629.7L1432.2 2675.2L1508.2 2714.3L1584.2 2747.3L1660.2 2754.8"/>
<path class="cv" stroke="#BF9000" d="M140.3 1861.9L216.3 1943.1L292.3 1975.6L368.3 2003.7L444.3 2037.8L520.3 2070.6L596.3 2104.2L672.3 2139.9L748.3 2178.4L824.3 2220.9L900.2 2268.3L976.2 2323.8L1052.2 2384.5L1128.2 2449.4L1204.2 2512.9L1280.2 2567.4L1356.2 2636.3L1432.2 2684.5L1508.2 2723.1L1584.2 2748.1L1660.2 2754.8"/>
<path class="cv" stroke="#FF0000" stroke-dasharray="35 33" d="M140.3 1883.9L216.3 1925.3L292.3 1967.3L368.3 2007.7L444.3 2046.9L520.3 2091.5L596.3 2137.6L672.3 2181.7L748.3 2225.7L824.3 2269.8L900.2 2315.5L976.2 2366.5L1052.2 2417.9L1128.2 2464.9L1204.2 2510.4L1280.2 2555.4L1356.2 2598.8L1432.2 2643.6L1508.2 2691.9L1584.2 2738.1L1660.2 2754.8"/>
<path class="cv" stroke="#00FF00" stroke-dasharray="35 33" d="M140.3 1887.9L216.3 1989.4L292.3 2044.9L368.3 2088.5L444.3 2134.5L520.3 2182.5L596.3 2230.8L672.3 2278.4L748.3 2324.9L824.3 2368.7L900.2 2412.2L976.2 2458.8L1052.2 2503.2L1128.2 2539.2L1204.2 2574.6L1280.2 2616.1L1356.2 2648.7L1432.2 2678.2L1508.2 2711.5L1584.2 2745.5L1660.2 2754.8"/>
<text class="tk" x="140.3" y="2788" text-anchor="middle">0</text>
<text class="tk" x="292.3" y="2788" text-anchor="middle">0.1</text>
<text class="tk" x="444.3" y="2788" text-anchor="middle">0.2</text>
<text class="tk" x="596.3" y="2788" text-anchor="middle">0.3</text>
<text class="tk" x="748.3" y="2788" text-anchor="middle">0.4</text>
<text class="tk" x="900.2" y="2788" text-anchor="middle">0.5</text>
<text class="tk" x="1052.2" y="2788" text-anchor="middle">0.6</text>
<text class="tk" x="1204.2" y="2788" text-anchor="middle">0.7</text>
<text class="tk" x="1356.2" y="2788" text-anchor="middle">0.8</text>
<text class="tk" x="1508.2" y="2788" text-anchor="middle">0.9</text>
<text class="tk" x="1660.2" y="2788" text-anchor="middle">1</text>
<text class="tk" x="130.5" y="2764.7" text-anchor="end">0</text>
<text class="tk" x="130.5" y="2631.6" text-anchor="end">0.1</text>
<text class="tk" x="130.5" y="2498.5" text-anchor="end">0.2</text>
<text class="tk" x="130.5" y="2365.4" text-anchor="end">0.3</text>
<text class="tk" x="130.5" y="2232.3" text-anchor="end">0.4</text>
<text class="tk" x="130.5" y="2099.2" text-anchor="end">0.5</text>
<text class="tk" x="130.5" y="1966.1" text-anchor="end">0.6</text>
<text class="tk" x="130.5" y="1833" text-anchor="end">0.7</text>
<text class="tk" x="130.5" y="1699.9" text-anchor="end">0.8</text>
<text class="tk" x="130.5" y="1566.8" text-anchor="end">0.9</text>
<text class="tt" x="606" y="1541.8" textLength="594.2" lengthAdjust="spacingAndGlyphs">Success plots on LaSOT Testing Set</text>
<text class="lb" x="759.1" y="2832.7" textLength="286.9" lengthAdjust="spacingAndGlyphs">Overlap threshold</text>
<text class="lb" transform="translate(83 2261) rotate(-90)" textLength="210.8" lengthAdjust="spacingAndGlyphs">Success rate</text>
<rect x="162" y="2072.3" width="413.2" height="661" fill="#fff" stroke="#262626" stroke-width="3.4" shape-rendering="crispEdges"/>
<path class="cv" stroke="#FF0000" d="M168 2098.6H220.1"/>
<text class="lg" x="224.6" y="2111.8">[0.583] DiMP-DCOM</text>
<path class="cv" stroke="#00FF00" d="M168 2145.4H220.1"/>
<text class="lg" x="224.6" y="2158.6">[0.568] DiMP50</text>
<path class="cv" stroke="#0000FF" d="M168 2192.1H220.1"/>
<text class="lg" x="224.6" y="2205.3">[0.536] ATOM-DCOM</text>
<path class="cv" stroke="#000000" d="M168 2238.9H220.1"/>
<text class="lg" x="224.6" y="2252.1">[0.516] SiamCAR</text>
<path class="cv" stroke="#FF00FF" d="M168 2285.7H220.1"/>
<text class="lg" x="224.6" y="2298.9">[0.514] ATOM</text>
<path class="cv" stroke="#00FFFF" d="M168 2332.4H220.1"/>
<text class="lg" x="224.6" y="2345.6">[0.514] SiamBAN</text>
<path class="cv" stroke="#808080" d="M168 2379.2H220.1"/>
<text class="lg" x="224.6" y="2392.4">[0.496] SiamRPN++</text>
<path class="cv" stroke="#880015" d="M168 2426H220.1"/>
<text class="lg" x="224.6" y="2439.2">[0.397] MDNet</text>
<path class="cv" stroke="#FF7F27" d="M168 2472.8H220.1"/>
<text class="lg" x="224.6" y="2486">[0.390] VITAL</text>
<path class="cv" stroke="#00A2E8" d="M168 2519.5H220.1"/>
<text class="lg" x="224.6" y="2532.7">[0.336] SiamFC</text>
<path class="cv" stroke="#A349A4" d="M168 2566.3H220.1"/>
<text class="lg" x="224.6" y="2579.5">[0.335] StructSiam</text>
<path class="cv" stroke="#BF9000" d="M168 2613.1H220.1"/>
<text class="lg" x="224.6" y="2626.3">[0.333] DSiam</text>
<path class="cv" stroke="#FF0000" stroke-dasharray="35 33" d="M168 2659.8H220.1"/>
<text class="lg" x="224.6" y="2673">[0.324] ECO</text>
<path class="cv" stroke="#00FF00" stroke-dasharray="35 33" d="M168 2706.6H220.1"/>
<text class="lg" x="224.6" y="2719.8">[0.275] CFNet</text>
</g>
</svg></body></html>
